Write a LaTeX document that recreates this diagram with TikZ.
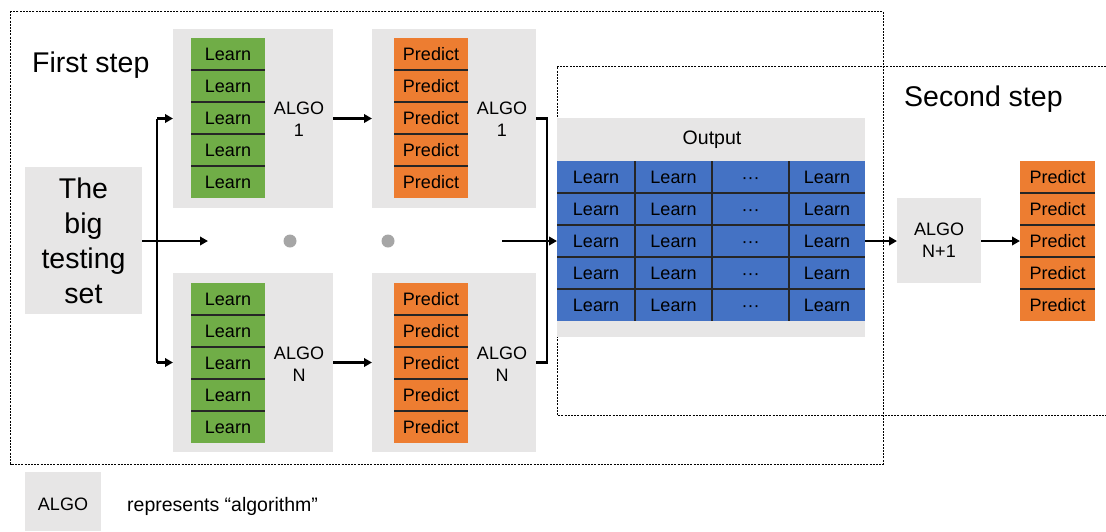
\documentclass[tikz,border=0pt]{standalone}
\usepackage{fontspec}
\setmainfont{Liberation Sans}
\usetikzlibrary{arrows.meta}
\definecolor{cgreen}{HTML}{70AD47}
\definecolor{corange}{HTML}{ED7D31}
\definecolor{cblue}{HTML}{4472C4}
\definecolor{cgray}{HTML}{E7E6E6}
\definecolor{cdot}{HTML}{A6A6A6}
\definecolor{csep}{HTML}{262626}
\begin{document}
\begin{tikzpicture}[x=1pt,y=-1pt,
  txt/.style={font=\fontsize{18}{22}\selectfont},
  bigtxt/.style={font=\fontsize{28.5}{35}\selectfont},
  bgbox/.style={fill=cgray, draw=none, inner sep=0pt, outer sep=0pt, anchor=north west},
  cell/.style={txt, inner sep=0pt, outer sep=0pt, minimum height=32pt, anchor=north west, draw=none, text height=13pt, text depth=0pt},
  sepline/.style={draw=csep, line width=1.3pt},
  conn/.style={line width=2.5pt},
  arr/.style={conn, -{Triangle[length=8pt,width=8.5pt]}},
  frame/.style={draw=black, line width=0.8pt, dash pattern=on 2pt off 1.2pt}]
\useasboundingbox (0,0) rectangle (1106,531);

% dashed frames
\draw[frame] (10.5,11) rectangle (883,464);
\draw[frame] (1106,66) -- (557,66) -- (557,415) -- (1106,415);

% headings
\node[bigtxt, anchor=base west, inner sep=0pt] (h1) at (32,72) {First step};
\node[bigtxt, anchor=base west, inner sep=0pt] (h2) at (904,106) {Second step};

% big testing set
\node[bgbox, minimum width=117pt, minimum height=147pt] (big) at (25,167) {};
\node[bigtxt, align=center, inner sep=0pt] (bigt) at (big.center) {The\\big\\testing\\set};

% backgrounds of algorithm groups
\node[bgbox, minimum width=160pt, minimum height=179pt] (g1) at (173,29) {};
\node[bgbox, minimum width=164pt, minimum height=179pt] (o1) at (372,29) {};
\node[bgbox, minimum width=160pt, minimum height=179pt] (g2) at (173,273) {};
\node[bgbox, minimum width=164pt, minimum height=179pt] (o2) at (372,273) {};

% columns
\foreach \r in {0,...,4}{
  \node[cell, fill=cgreen, minimum width=74pt] (ga\r) at (191,{38+32*\r}) {Learn};
  \node[cell, fill=corange, minimum width=74pt] (oa\r) at (394,{38+32*\r}) {Predict};
  \node[cell, fill=cgreen, minimum width=74pt] (gb\r) at (191,{283+32*\r}) {Learn};
  \node[cell, fill=corange, minimum width=74pt] (ob\r) at (394,{283+32*\r}) {Predict};
  \node[cell, fill=corange, minimum width=75pt] (oc\r) at (1020,{161+32*\r}) {Predict};
}
\foreach \r in {1,...,4}{
  \draw[sepline] (ga\r.north west) -- (ga\r.north east);
  \draw[sepline] (oa\r.north west) -- (oa\r.north east);
  \draw[sepline] (gb\r.north west) -- (gb\r.north east);
  \draw[sepline] (ob\r.north west) -- (ob\r.north east);
  \draw[sepline] (oc\r.north west) -- (oc\r.north east);
}

% ALGO labels
\node[txt, align=center, inner sep=0pt] (l1) at (299,119) {ALGO\\1};
\node[txt, align=center, inner sep=0pt] (l2) at (502,119) {ALGO\\1};
\node[txt, align=center, inner sep=0pt] (l3) at (299,364) {ALGO\\N};
\node[txt, align=center, inner sep=0pt] (l4) at (502,364) {ALGO\\N};

% output table
\node[bgbox, minimum width=308pt, minimum height=219pt] (out) at (557,118) {};
\node[txt, font=\fontsize{19.5}{22}\selectfont, inner sep=0pt] (outt) at (712,140) {Output};
\foreach \r in {0,...,4}{
  \foreach \x/\w/\t [count=\c] in {557/78/Learn,635/77/Learn,712/77/{···},789/76/Learn}{
    \node[cell, fill=cblue, minimum width=\w pt] (b\r-\c) at (\x,{161+32*\r}) {\t};
  }
}
\foreach \r in {1,...,4}{
  \draw[sepline] (b\r-1.north west) -- (b\r-4.north east);
}
\foreach \c in {2,3,4}{
  \draw[sepline] (b0-\c.north west) -- (b4-\c.south west);
}

% ALGO N+1
\node[bgbox, minimum width=84pt, minimum height=85pt] (a2) at (897,198) {};
\node[txt, align=center, inner sep=0pt] (a2t) at (a2.center) {ALGO\\N+1};

% dots
\fill[cdot] (290,241) circle (6.5pt);
\fill[cdot] (388,241) circle (6.5pt);

% connectors
\coordinate (split) at (157,241);
\coordinate (mid1) at (208,241);
\coordinate (mid2) at (502,241);
\coordinate (join) at (547,241);
\draw[arr] (big.east |- split) -- (mid1);
\draw[arr] (split |- g1.west) -- (g1.west);
\draw[arr] (split |- g2.west) -- (g2.west);
\draw[conn] (split |- g1.west) -- (split |- g2.west);
\draw[arr] (g1.east) -- (o1.west |- g1.east);
\draw[arr] (g2.east) -- (o2.west |- g2.east);
\draw[conn] (o1.east) -| (join);
\draw[conn] (o2.east) -| (join);
\draw[arr] (mid2) -- (out.west |- mid2);
\draw[arr] (out.east |- mid2) -- (a2.west |- mid2);
\draw[arr] (a2.east |- mid2) -- (oc2.west |- mid2);

% legend
\node[bgbox, minimum width=76pt, minimum height=59pt] (leg) at (25,472) {};
\node[txt, inner sep=0pt] (legt) at (63,504) {ALGO};
\node[txt, font=\fontsize{19.5}{22}\selectfont, anchor=base west, inner sep=0pt] (legd) at (127,511) {represents “algorithm”};
\end{tikzpicture}
\end{document}
